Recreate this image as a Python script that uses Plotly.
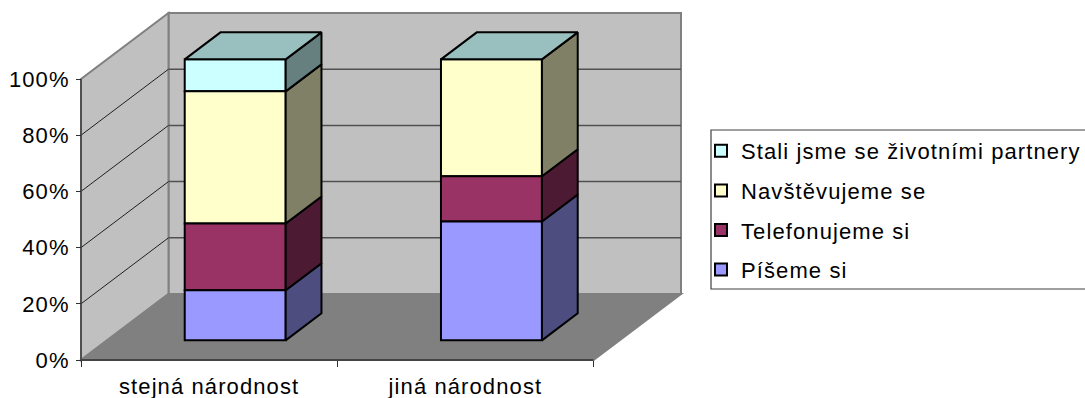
import plotly.graph_objects as go

categories = ["stejná národnost", "jiná národnost"]
series_names = ["Píšeme si", "Telefonujeme si", "Navštěvujeme se", "Stali jsme se životními partnery"]
pisem = [17.8, 42.3]
telefon = [23.8, 16.1]
navstev = [47, 41.6]
stali = [11.4, 0]
all_series = [pisem, telefon, navstev, stali]
tick_values = [0, 20, 40, 60, 80, 100]
tick_labels = ["0%", "20%", "40%", "60%", "80%", "100%"]

front_colors = ["#9999FF", "#993366", "#FFFFCC", "#CCFFFF"]
side_colors = ["#4D4D80", "#4D1A33", "#808066", "#668080"]
top_color = "#99BFBF"

W, H = 1085, 398
X0, Y0 = 81, 360          # pixel of the origin
PX_CAT, PX_PCT = 256.25, 2.81
DX, DY = 87.5 / PX_CAT, 66 / PX_PCT   # full-depth shift, data units
FRONT, BACK = 0.298, 0.707
BAR_W = 0.394
FS = 22
EDGE = 2


def P(cat, val, depth):
    return cat + depth * DX, val + depth * DY


fig = go.Figure()

# Front faces: real stacked bars (added top series first so the legend reads top-down)
n = len(categories)
bases = []
cum = [0] * n
for vals in all_series:
    bases.append(list(cum))
    cum = [c + v for c, v in zip(cum, vals)]
sx, sy = P(0, 0, FRONT)
for name, vals, col, base in reversed(list(zip(series_names, all_series, front_colors, bases))):
    fig.add_bar(
        x=[i + 0.5 + sx for i in range(n)], y=vals, base=[b + sy for b in base],
        width=BAR_W, name=name, legendgroup=name,
        marker=dict(color=col, line=dict(color="black", width=EDGE)),
        hoverinfo="skip",
    )


def face(pts, col):
    xs, ys = zip(*(pts + pts[:1]))
    fig.add_scatter(x=xs, y=ys, mode="lines", fill="toself", fillcolor=col,
                    line=dict(color="black", width=EDGE), showlegend=False, hoverinfo="skip")


# Side faces and tops
for i in range(n):
    left, right = i + 0.5 - BAR_W / 2, i + 0.5 + BAR_W / 2
    low = 0
    for vals, col in zip(all_series, side_colors):
        v = vals[i]
        if v > 0:
            face([P(right, low, FRONT), P(right, low, BACK),
                  P(right, low + v, BACK), P(right, low + v, FRONT)], col)
        low += v
    face([P(left, low, FRONT), P(right, low, FRONT),
          P(right, low, BACK), P(left, low, BACK)], top_color)


# Walls, floor and gridlines, all below the marks
def poly(pts, fill, line=None, lw=2):
    path = "M" + "L".join(f"{x},{y}" for x, y in pts) + "Z"
    return dict(type="path", path=path, xref="x", yref="y", layer="below", fillcolor=fill,
                line=dict(color=line or fill, width=lw))


def seg(a, b, col, lw=1):
    return dict(type="line", x0=a[0], y0=a[1], x1=b[0], y1=b[1], xref="x", yref="y",
                layer="below", line=dict(color=col, width=lw))


XMAX = n
VMAX = tick_values[-1]
shapes = [
    poly([P(0, 0, 1), P(XMAX, 0, 1), P(XMAX, VMAX, 1), P(0, VMAX, 1)], "#C0C0C0", "#808080"),
    poly([P(0, 0, 0), P(0, 0, 1), P(0, VMAX, 1), P(0, VMAX, 0)], "#C0C0C0", "#808080"),
    poly([P(0, 0, 0), P(XMAX, 0, 0), P(XMAX, 0, 1), P(0, 0, 1)], "#808080"),
]
for t in tick_values[1:-1]:
    shapes.append(seg(P(0, t, 0), P(0, t, 1), "#202020"))
    shapes.append(seg(P(0, t, 1), P(XMAX, t, 1), "#505050", 1.5))
shapes.append(seg(P(0, 0, 0), P(XMAX, 0, 0), "#303030", 1.5))
shapes.append(seg(P(0, 0, 0), P(0, VMAX, 0), "#404040", 1.5))
# legend frame (open past the right edge of the page, as in the reference)
shapes.append(dict(type="rect", xref="paper", yref="paper", x0=711 / W, x1=1100 / W,
                   y0=(H - 289) / H, y1=(H - 130) / H, layer="below",
                   line=dict(color="#404040", width=1.2), fillcolor="white"))

fig.update_layout(
    width=W, height=H, margin=dict(l=0, r=0, t=0, b=0, pad=0), showlegend=True,
    paper_bgcolor="white", plot_bgcolor="rgba(0,0,0,0)", barmode="overlay", shapes=shapes,
    font=dict(family="Liberation Sans, Arial, sans-serif", size=FS, color="black"),
    xaxis=dict(
        domain=[0, 1], range=[-X0 / PX_CAT, (W - X0) / PX_CAT], showgrid=False, zeroline=False,
        automargin=False,
        showline=False, tickmode="array", tickvals=[i + 0.5 for i in range(n)], ticktext=categories,
        ticks="outside", ticklen=7, tickcolor="rgba(0,0,0,0)", anchor="free", position=(H - Y0) / H,
        minor=dict(tickmode="array", tickvals=list(range(n + 1)), ticks="outside", ticklen=6,
                   tickcolor="#303030", showgrid=False),
        tickfont=dict(size=FS),
    ),
    yaxis=dict(
        domain=[0, 1], range=[(Y0 - H) / PX_PCT, Y0 / PX_PCT], showgrid=False, zeroline=False,
        automargin=False, ticklabelstandoff=2,
        showline=False, tickmode="array", tickvals=tick_values, ticktext=tick_labels,
        ticks="outside", ticklen=5, tickcolor="#303030", anchor="free", position=X0 / W,
        tickfont=dict(size=FS),
    ),
    legend=dict(
        x=701 / W, xanchor="left", y=(H - 130) / H, yanchor="top",
        borderwidth=0, bgcolor="rgba(0,0,0,0)",
        traceorder="grouped", tracegroupgap=8, itemclick=False, itemdoubleclick=False,
        font=dict(size=FS), itemwidth=30,
    ),
)
post = ("document.body.style.margin='0';"
        "var s=document.createElement('style');"
        "s.textContent='text{letter-spacing:1.1px}.legend .scrollbox{clip-path:none!important}';"
        "document.head.appendChild(s);")
fig.write_html("out.html", post_script=post, config=dict(displayModeBar=False))
